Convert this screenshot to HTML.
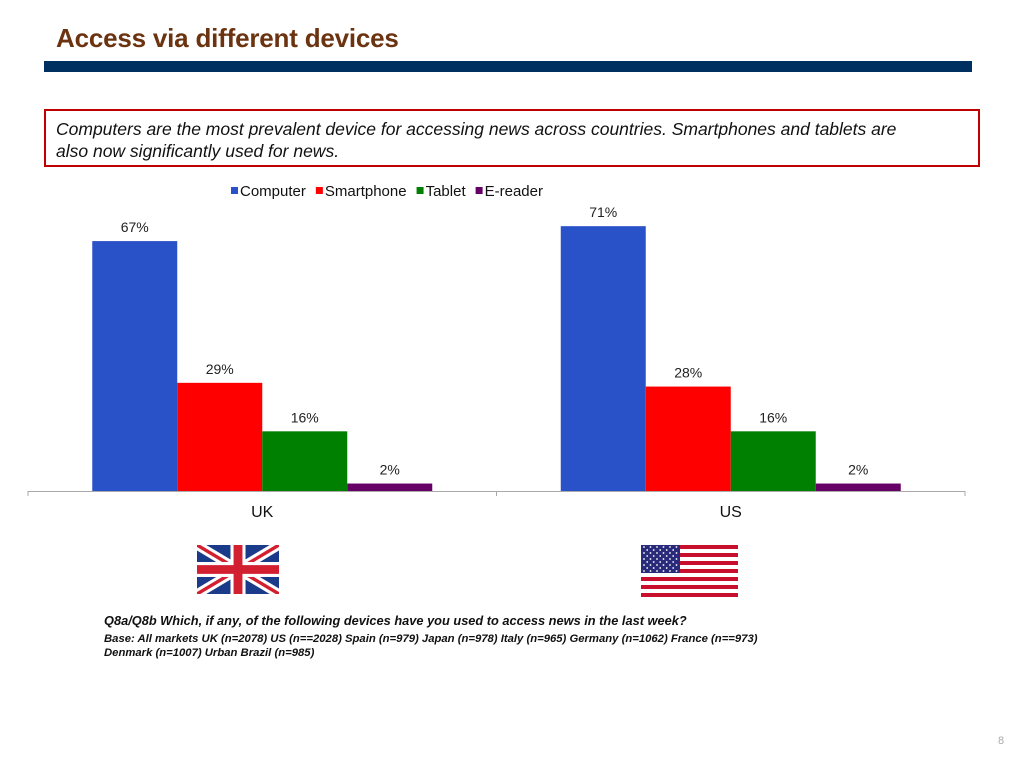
<!DOCTYPE html>
<html><head><meta charset="utf-8"><style>
body{margin:0;width:1024px;height:768px;background:#fff;font-family:"Liberation Sans",sans-serif;position:relative;overflow:hidden}
.abs{position:absolute}
</style></head><body>
<div class="abs" style="left:56px;top:23px;font-size:26px;font-weight:bold;color:#6b3310;letter-spacing:-0.2px">Access via different devices</div>
<div class="abs" style="left:44px;top:61px;width:928px;height:11px;background:#00305f"></div>
<div class="abs" style="left:44px;top:109px;width:932px;height:54px;border:2px solid #c00000;font-style:italic;font-size:17.5px;line-height:22px;color:#111">
<div style="padding:7px 50px 0 10px">Computers are the most prevalent device for accessing news across countries. Smartphones and tablets are also now significantly used for news.</div></div>
<svg class="abs" style="left:0;top:0" width="1024" height="768" id="chart"></svg>
<svg class="abs" style="left:197px;top:545px" width="82" height="49" viewBox="0 0 60 36" preserveAspectRatio="none">
<rect width="60" height="36" fill="#1a3a8a"/>
<path d="M0,0 L60,36 M60,0 L0,36" stroke="#fff" stroke-width="7"/>
<path d="M0,0 L60,36 M60,0 L0,36" stroke="#d22030" stroke-width="2.5"/>
<path d="M30,0 V36 M0,18 H60" stroke="#fff" stroke-width="11"/>
<path d="M30,0 V36 M0,18 H60" stroke="#d22030" stroke-width="6.5"/>
</svg>
<svg class="abs" style="left:641px;top:545px" width="97" height="52" viewBox="0 0 97 52" id="usflag"></svg>
<div class="abs" style="left:104px;top:613px;font-size:12.8px;font-weight:bold;font-style:italic;color:#111">Q8a/Q8b Which, if any, of the following devices have you used to access news in the last week?</div>
<div class="abs" style="left:104px;top:632px;font-size:11.3px;font-weight:bold;font-style:italic;color:#111;line-height:14px">Base: All markets UK (n=2078) US (n==2028) Spain (n=979) Japan (n=978) Italy (n=965) Germany (n=1062) France (n==973)<br>Denmark (n=1007) Urban Brazil (n=985)</div>
<div class="abs" style="left:998px;top:735px;font-size:11px;color:#aaa">8</div>
<script>
const categories=["UK","US"];
const series=["Computer","Smartphone","Tablet","E-reader"];
const colors=["#2a52c8","#ff0000","#008000","#660066"];
const values=[[67,29,16,2],[71,28,16,2]];
const labels=[["67%","29%","16%","2%"],["71%","28%","16%","2%"]];
const NS="http://www.w3.org/2000/svg";
const svg=document.getElementById('chart');
function mk(t,a,p){const e=document.createElementNS(NS,t);for(const k in a)e.setAttribute(k,a[k]);(p||svg).appendChild(e);return e;}
const x0=28,x1=965,base=491,pxPer=3.73,barW=85;
const gw=(x1-x0)/categories.length;
function y(v){return base-v*pxPer;}
categories.forEach((c,i)=>{
 const cx=x0+gw*(i+0.5);
 const start=cx-barW*series.length/2;
 values[i].forEach((v,j)=>{
  const r=mk('rect',{x:start+j*barW,y:y(v),width:barW,height:base-y(v),fill:colors[j]});
  
  
  const t=mk('text',{x:start+j*barW+barW/2,y:y(v)-9,'text-anchor':'middle','font-size':14,fill:'#222'});
  t.textContent=labels[i][j];
  
  
 });
 const ct=mk('text',{x:cx,y:517,'text-anchor':'middle','font-size':16,fill:'#111'});
 ct.textContent=c;
 
 
});
const ax=mk('line',{x1:x0,y1:base+0.5,x2:x1,y2:base+0.5,stroke:'#aaa'});


for(let i=0;i<=categories.length;i++){const tk=mk('line',{x1:x0+gw*i,y1:base,x2:x0+gw*i,y2:base+5,stroke:'#aaa'});

}
let lx=231;
series.forEach((s,j)=>{
 const g=mk('g',{});
 
 
 mk('rect',{x:lx,y:187,width:7,height:7,fill:colors[j]},g);
 const t=mk('text',{x:lx+9,y:196,'font-size':15,fill:'#111'},g);
 t.textContent=s;
 lx+=9+t.getComputedTextLength()+10;
});
const us=document.getElementById('usflag');
for(let i=0;i<13;i++){mk('rect',{x:0,y:i*4,width:97,height:4,fill:i%2?'#fff':'#c8102e'},us);}
mk('rect',{x:0,y:0,width:39,height:28,fill:'#2a2a7a'},us);
for(let r=0;r<9;r++)for(let c=0;c<(r%2?5:6);c++)mk('circle',{cx:3+c*6.5+(r%2?3.2:0),cy:2+r*3,r:0.9,fill:'#fff'},us);
</script>
</body></html>
